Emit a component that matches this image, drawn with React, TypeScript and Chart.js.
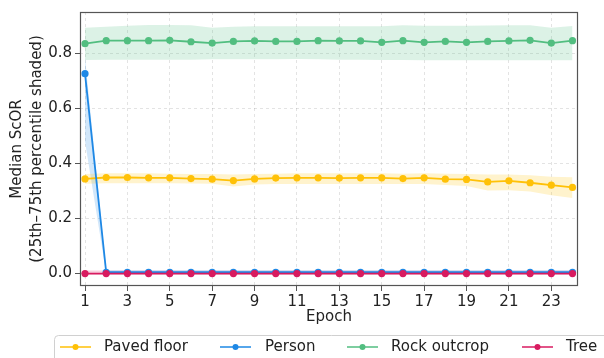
import React, { useEffect, useRef } from "react";
import { Chart, registerables } from "chart.js";

Chart.register(...registerables);

const epochs = [1, 2, 3, 4, 5, 6, 7, 8, 9, 10, 11, 12, 13, 14, 15, 16, 17, 18, 19, 20, 21, 22, 23, 24];
const xTickValues = [1, 3, 5, 7, 9, 11, 13, 15, 17, 19, 21, 23];
const yTickValues = [0, 0.2, 0.4, 0.6, 0.8];

const seriesNames = ["Paved floor", "Person", "Rock outcrop", "Tree"];
const seriesColors = ["#FFC107", "#1E88E5", "#52BE80", "#D81B60"];
const bandColors = ["rgba(255,193,7,0.2)", "rgba(30,136,229,0.2)", "rgba(82,190,128,0.2)", "rgba(216,27,96,0.2)"];

const pavedMedian = [0.344, 0.349, 0.349, 0.348, 0.348, 0.345, 0.343, 0.338, 0.344, 0.347, 0.348, 0.348, 0.347, 0.348, 0.348, 0.345, 0.348, 0.343, 0.342, 0.333, 0.337, 0.330, 0.321, 0.313];
const pavedQ1 = [0.326, 0.328, 0.328, 0.328, 0.328, 0.327, 0.326, 0.316, 0.324, 0.325, 0.325, 0.325, 0.325, 0.325, 0.325, 0.325, 0.325, 0.322, 0.318, 0.302, 0.303, 0.298, 0.285, 0.275];
const pavedQ3 = [0.362, 0.364, 0.364, 0.364, 0.363, 0.362, 0.362, 0.360, 0.362, 0.363, 0.364, 0.364, 0.364, 0.364, 0.364, 0.363, 0.364, 0.363, 0.362, 0.360, 0.360, 0.357, 0.352, 0.350];

const personMedian = [0.726, 0.005, 0.005, 0.005, 0.005, 0.005, 0.005, 0.005, 0.005, 0.005, 0.005, 0.005, 0.005, 0.005, 0.005, 0.005, 0.005, 0.005, 0.005, 0.005, 0.005, 0.005, 0.005, 0.005];
const personQ1 = [0.48, 0.0, 0.0, 0.0, 0.0, 0.0, 0.0, 0.0, 0.0, 0.0, 0.0, 0.0, 0.0, 0.0, 0.0, 0.0, 0.0, 0.0, 0.0, 0.0, 0.0, 0.0, 0.0, 0.0];
const personQ3 = [0.785, 0.012, 0.012, 0.012, 0.012, 0.012, 0.012, 0.012, 0.012, 0.012, 0.012, 0.012, 0.012, 0.012, 0.012, 0.012, 0.012, 0.012, 0.012, 0.012, 0.012, 0.012, 0.012, 0.012];

const rockMedian = [0.835, 0.846, 0.846, 0.846, 0.847, 0.842, 0.837, 0.843, 0.845, 0.843, 0.843, 0.846, 0.845, 0.845, 0.840, 0.846, 0.840, 0.843, 0.840, 0.843, 0.845, 0.847, 0.837, 0.846];
const rockQ1 = [0.776, 0.777, 0.777, 0.777, 0.777, 0.777, 0.778, 0.778, 0.778, 0.778, 0.779, 0.778, 0.777, 0.777, 0.776, 0.776, 0.775, 0.775, 0.775, 0.775, 0.775, 0.775, 0.775, 0.775];
const rockQ3 = [0.893, 0.896, 0.900, 0.903, 0.903, 0.902, 0.893, 0.896, 0.898, 0.898, 0.898, 0.898, 0.898, 0.898, 0.898, 0.902, 0.900, 0.900, 0.900, 0.901, 0.902, 0.902, 0.893, 0.899];

const treeMedian = [0, 0, 0, 0, 0, 0, 0, 0, 0, 0, 0, 0, 0, 0, 0, 0, 0, 0, 0, 0, 0, 0, 0, 0];
const treeQ1 = [-0.002, -0.002, -0.002, -0.002, -0.002, -0.002, -0.002, -0.002, -0.002, -0.002, -0.002, -0.002, -0.002, -0.002, -0.002, -0.002, -0.002, -0.002, -0.002, -0.002, -0.002, -0.002, -0.002, -0.002];
const treeQ3 = [0.011, 0.011, 0.011, 0.011, 0.011, 0.011, 0.011, 0.011, 0.011, 0.011, 0.011, 0.011, 0.011, 0.011, 0.011, 0.011, 0.011, 0.011, 0.011, 0.011, 0.011, 0.011, 0.011, 0.011];

const medians = [pavedMedian, personMedian, rockMedian, treeMedian];
const lowers = [pavedQ1, personQ1, rockQ1, treeQ1];
const uppers = [pavedQ3, personQ3, rockQ3, treeQ3];

const FONT = "'DejaVu Sans', sans-serif";

const pts = (arr: number[]) => epochs.map((e, i) => ({ x: e, y: arr[i] }));

const overlayPlugin = {
  id: "overlay",
  afterDraw(chart: any) {
    const { ctx, chartArea } = chart;
    const { left, right, top, bottom } = chartArea;
    ctx.save();
    // spines
    ctx.strokeStyle = "#555";
    ctx.lineWidth = 1.2;
    ctx.setLineDash([]);
    ctx.strokeRect(left + 0.5, top + 0.5, right - left - 1, bottom - top - 1);
    // axis titles
    ctx.fillStyle = "#222";
    ctx.font = `15px ${FONT}`;
    ctx.textAlign = "center";
    ctx.textBaseline = "middle";
    ctx.fillText("Epoch", (left + right) / 2, 317);
    ctx.save();
    ctx.translate(17, (top + bottom) / 2);
    ctx.rotate(-Math.PI / 2);
    ctx.fillText("Median ScOR", 0, 0);
    ctx.fillText("(25th\u201375th percentile shaded)", 0, 20);
    ctx.restore();
    // legend
    ctx.fillStyle = "rgba(255,255,255,0.85)";
    ctx.strokeStyle = "#d0d0d0";
    ctx.lineWidth = 1;
    const bx = 54.5, by = 335.5, bw = 600, bh = 40, r = 4;
    ctx.beginPath();
    ctx.moveTo(bx + r, by);
    ctx.lineTo(bx + bw - r, by);
    ctx.quadraticCurveTo(bx + bw, by, bx + bw, by + r);
    ctx.lineTo(bx + bw, by + bh - r);
    ctx.quadraticCurveTo(bx + bw, by + bh, bx + bw - r, by + bh);
    ctx.lineTo(bx + r, by + bh);
    ctx.quadraticCurveTo(bx, by + bh, bx, by + bh - r);
    ctx.lineTo(bx, by + r);
    ctx.quadraticCurveTo(bx, by, bx + r, by);
    ctx.closePath();
    ctx.fill();
    ctx.stroke();
    const lineStarts = [60, 220, 347, 522];
    const textStarts = [104, 265, 391, 566];
    const ly = 347;
    seriesNames.forEach((name, i) => {
      ctx.strokeStyle = seriesColors[i];
      ctx.lineWidth = 1.5;
      ctx.beginPath();
      ctx.moveTo(lineStarts[i], ly);
      ctx.lineTo(lineStarts[i] + 31, ly);
      ctx.stroke();
      ctx.fillStyle = seriesColors[i];
      ctx.beginPath();
      ctx.arc(lineStarts[i] + 15.5, ly, 3, 0, Math.PI * 2);
      ctx.fill();
      ctx.fillStyle = "#222";
      ctx.textAlign = "left";
      ctx.font = `15px ${FONT}`;
      ctx.fillText(name, textStarts[i], ly);
    });
    ctx.restore();
  },
};

export default function App() {
  const canvasRef = useRef<HTMLCanvasElement | null>(null);

  useEffect(() => {
    document.body.style.margin = "0";
    const canvas = canvasRef.current;
    if (!canvas) return;
    const datasets: any[] = [];
    seriesNames.forEach((name, i) => {
      datasets.push({
        label: name + " q1",
        data: pts(lowers[i]),
        borderWidth: 0,
        pointRadius: 0,
        fill: false,
        order: 20 + i,
      });
      datasets.push({
        label: name + " q3",
        data: pts(uppers[i]),
        borderWidth: 0,
        pointRadius: 0,
        backgroundColor: bandColors[i],
        fill: "-1",
        order: 20 + i,
      });
    });
    seriesNames.forEach((name, i) => {
      datasets.push({
        label: name,
        data: pts(medians[i]),
        borderColor: seriesColors[i],
        backgroundColor: seriesColors[i],
        borderWidth: 1.8,
        pointRadius: 3.6,
        pointBorderWidth: 0,
        pointBackgroundColor: seriesColors[i],
        fill: false,
        order: 10 - i,
      });
    });

    const chart = new Chart(canvas, {
      type: "line",
      data: { datasets },
      options: {
        animation: false,
        responsive: false,
        maintainAspectRatio: false,
        devicePixelRatio: 1,
        layout: { padding: { top: 11, right: 26, left: 0, bottom: 0 } },
        plugins: { legend: { display: false }, tooltip: { enabled: false } },
        elements: { line: { tension: 0 } },
        scales: {
          x: {
            type: "linear",
            min: 0.764,
            max: 24.26,
            afterBuildTicks: (s: any) => {
              s.ticks = xTickValues.map((v) => ({ value: v }));
            },
            afterFit: (s: any) => {
              s.height = 72;
            },
            ticks: {
              autoSkip: false,
              maxRotation: 0,
              color: "#222",
              font: { family: FONT, size: 15 },
              padding: 2,
              callback: (v: any) => String(v),
            },
            grid: {
              color: "rgba(0,0,0,0.14)",
              lineWidth: 0.8,
              tickColor: "#555",
              tickLength: 5,
              tickWidth: 1,
              tickBorderDash: [1, 0],
              borderDash: [3, 3],
            } as any,
            border: { display: false, dash: [3, 3] } as any,
          },
          y: {
            type: "linear",
            min: -0.045,
            max: 0.95,
            afterBuildTicks: (s: any) => {
              s.ticks = yTickValues.map((v) => ({ value: v }));
            },
            afterFit: (s: any) => {
              s.width = 80;
            },
            ticks: {
              color: "#222",
              font: { family: FONT, size: 15 },
              padding: 3,
              callback: (v: any) => Number(v).toFixed(1),
            },
            grid: {
              color: "rgba(0,0,0,0.14)",
              lineWidth: 0.8,
              tickColor: "#555",
              tickLength: 5,
              tickWidth: 1,
              tickBorderDash: [1, 0],
              borderDash: [3, 3],
            } as any,
            border: { display: false, dash: [3, 3] } as any,
          },
        },
      },
      plugins: [overlayPlugin],
    });
    return () => chart.destroy();
  }, []);

  return (
    <div style={{ width: 604, height: 358 }}>
      <canvas ref={canvasRef} width={604} height={358} style={{ display: "block", width: 604, height: 358 }} />
    </div>
  );
}
